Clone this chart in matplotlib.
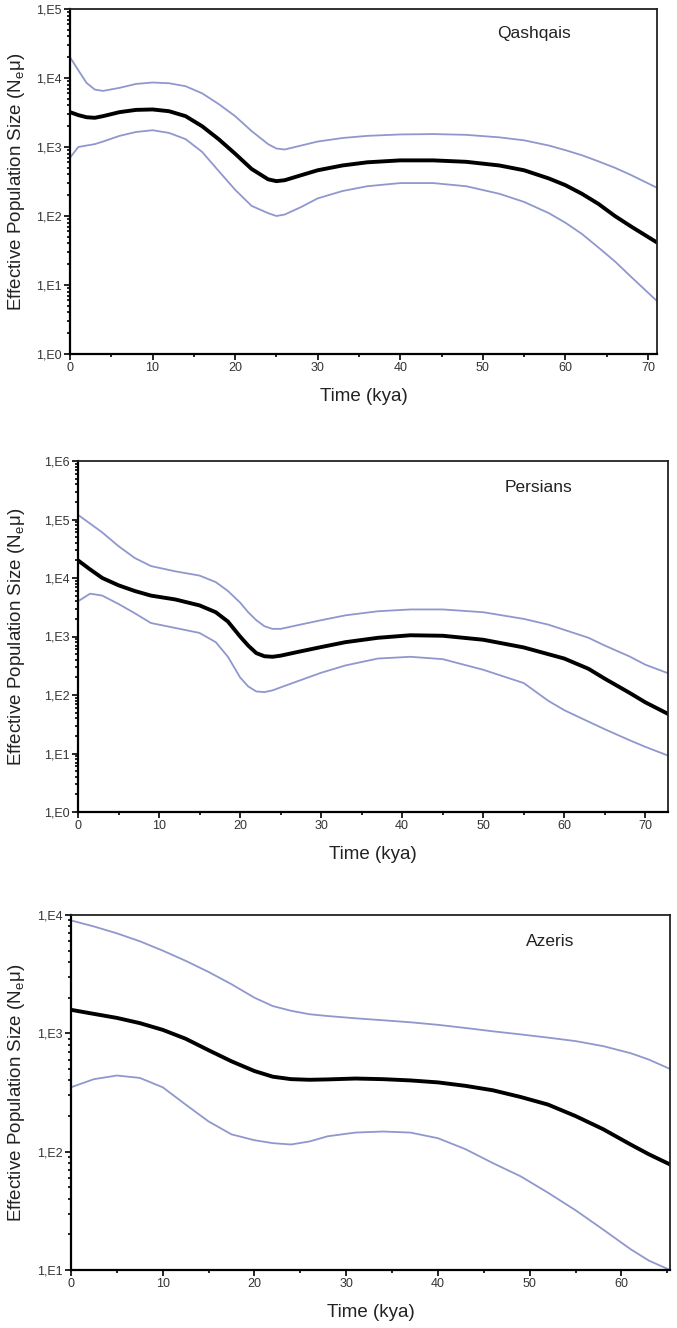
import numpy as np
import matplotlib.pyplot as plt
from matplotlib.ticker import FuncFormatter, LogLocator, NullFormatter, MultipleLocator

plt.rcParams['font.family'] = ['Liberation Sans', 'DejaVu Sans']
plt.rcParams['mathtext.fontset'] = 'custom'
plt.rcParams['mathtext.rm'] = 'Liberation Sans'

# ---- Qashqais ----
q_x = [0, 1, 2, 3, 4, 6, 8, 10, 12, 14, 16, 18, 20, 22, 24, 25, 26, 28, 30, 33, 36, 40, 44, 48, 52, 55, 58, 60, 62, 64, 66, 68, 71]
q_mid = [3200, 2900, 2700, 2650, 2800, 3200, 3450, 3500, 3300, 2800, 2000, 1300, 800, 480, 340, 320, 330, 390, 460, 540, 600, 640, 640, 610, 540, 460, 350, 280, 210, 150, 100, 70, 42]
q_up = [20000, 13000, 8500, 6800, 6500, 7200, 8200, 8600, 8400, 7600, 6000, 4200, 2800, 1700, 1100, 950, 920, 1050, 1200, 1350, 1450, 1520, 1540, 1500, 1380, 1250, 1050, 900, 760, 620, 500, 390, 260]
q_lo = [700, 1000, 1050, 1100, 1200, 1450, 1650, 1750, 1600, 1300, 850, 450, 240, 140, 110, 100, 105, 135, 180, 230, 270, 300, 300, 270, 210, 160, 110, 80, 55, 35, 22, 13, 6]

# ---- Persians ----
p_x = [0, 1.5, 3, 5, 7, 9, 12, 15, 17, 18.5, 20, 21, 22, 23, 24, 25, 27, 30, 33, 37, 41, 45, 50, 55, 58, 60, 63, 65, 68, 70, 73]
p_mid = [20000, 14000, 10000, 7500, 6000, 5000, 4300, 3400, 2600, 1800, 1000, 700, 520, 460, 450, 470, 540, 660, 800, 950, 1050, 1030, 880, 650, 500, 420, 280, 190, 110, 75, 46]
p_up = [120000, 85000, 60000, 35000, 22000, 16000, 13000, 11000, 8500, 6000, 3800, 2600, 1900, 1500, 1350, 1350, 1550, 1900, 2300, 2700, 2900, 2900, 2600, 2000, 1600, 1300, 950, 700, 460, 330, 230]
p_lo = [4000, 5400, 5000, 3600, 2500, 1700, 1400, 1150, 800, 450, 200, 140, 115, 112, 120, 135, 170, 240, 320, 420, 450, 410, 270, 160, 80, 55, 35, 26, 17, 13, 9]

# ---- Azeris ----
a_x = [0, 2.5, 5, 7.5, 10, 12.5, 15, 17.5, 20, 22, 24, 26, 28, 31, 34, 37, 40, 43, 46, 49, 52, 55, 58, 61, 63, 65.3]
a_mid = [1580, 1460, 1350, 1220, 1070, 900, 720, 580, 480, 430, 410, 405, 408, 415, 410, 400, 385, 360, 330, 290, 250, 200, 155, 115, 95, 78]
a_up = [9000, 8000, 7000, 6000, 5000, 4100, 3300, 2600, 2000, 1700, 1550, 1450, 1400, 1340, 1290, 1240, 1180, 1110, 1040, 980, 920, 860, 780, 680, 600, 500]
a_lo = [350, 410, 440, 420, 350, 250, 180, 140, 125, 118, 115, 122, 135, 145, 148, 145, 130, 105, 80, 62, 45, 32, 22, 15, 12, 10]

names = ['Qashqais', 'Persians', 'Azeris']
xs = [q_x, p_x, a_x]
mids = [q_mid, p_mid, a_mid]
ups = [q_up, p_up, a_up]
los = [q_lo, p_lo, a_lo]
ylims = [(1, 1e5), (1, 1e6), (10, 1e4)]
xmaxs = [71.1, 72.8, 65.3]

W, H = 677, 1328
# axes boxes in pixels: left, top, right, bottom
boxes = [(70, 9, 657, 354), (78, 461, 668, 812), (71, 915, 670, 1270)]
name_pos = [(0.79, 0.93), (0.78, 0.925), (0.80, 0.925)]

fig = plt.figure(figsize=(W / 100, H / 100), dpi=100)
bound_col = '#9097cc'

for i in range(3):
    l, t, r, b = boxes[i]
    ax = fig.add_axes([l / W, 1 - b / H, (r - l) / W, (b - t) / H])
    ax.plot(xs[i], ups[i], color=bound_col, lw=1.3)
    ax.plot(xs[i], los[i], color=bound_col, lw=1.3)
    ax.plot(xs[i], mids[i], color='black', lw=2.8)
    ax.set_yscale('log')
    ax.set_ylim(*ylims[i])
    ax.set_xlim(0, xmaxs[i])
    ax.yaxis.set_major_locator(LogLocator(base=10, numticks=10))
    ax.yaxis.set_minor_locator(LogLocator(base=10, subs=np.arange(2, 10), numticks=20))
    ax.yaxis.set_major_formatter(FuncFormatter(lambda v, p: '1,E%d' % int(round(np.log10(v)))))
    ax.yaxis.set_minor_formatter(NullFormatter())
    ax.xaxis.set_major_locator(MultipleLocator(10))
    ax.xaxis.set_minor_locator(MultipleLocator(5))
    ax.tick_params(axis='both', which='major', direction='out', length=4, width=1.2,
                   labelsize=9, labelcolor='#333333', pad=2)
    ax.tick_params(axis='both', which='minor', direction='out', length=2.5, width=1.2)
    ax.tick_params(top=False, right=False)
    for s in ['left', 'bottom']:
        ax.spines[s].set_linewidth(1.6)
    for s in ['top', 'right']:
        ax.spines[s].set_linewidth(1.3)
        ax.spines[s].set_color('#222222')
    ax.set_xlabel('Time (kya)', fontsize=13.5, color='#222222', labelpad=10)
    ax.set_ylabel(r'Effective Population Size (N$_\mathregular{e}$μ)', fontsize=13.5,
                  color='#222222')
    # label anchor is the right edge of the rotated text
    ax.yaxis.set_label_coords((27 - l) / (r - l), 0.5)
    ax.text(name_pos[i][0], name_pos[i][1], names[i], transform=ax.transAxes,
            ha='center', va='center', fontsize=12.5, color='#222222')

fig.savefig('out.png', dpi=100)
